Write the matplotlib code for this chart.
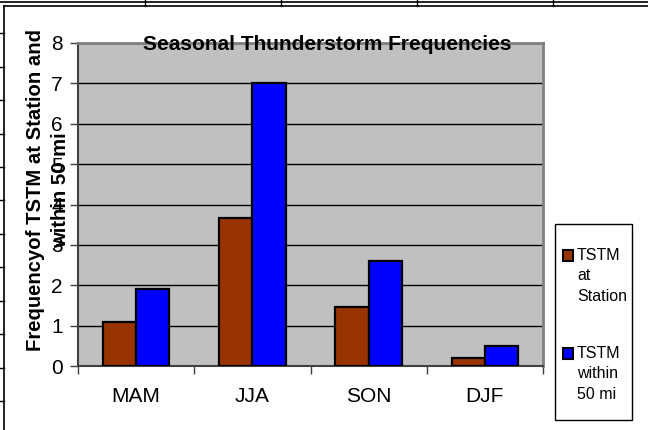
import numpy as np
import matplotlib.pyplot as plt
from matplotlib.patches import Rectangle
from matplotlib.lines import Line2D

seasons = ["MAM", "JJA", "SON", "DJF"]
at_station = [1.1, 3.67, 1.45, 0.2]
within_50mi = [1.9, 7.0, 2.6, 0.5]
series_labels = ["TSTM\nat\nStation", "TSTM\nwithin\n50 mi"]
colors = ["#993300", "#0000FF"]

W, H = 648, 430
plt.rcParams["font.family"] = ["Liberation Sans", "DejaVu Sans"]

fig = plt.figure(figsize=(W / 100, H / 100), dpi=100)


def fx(x):
    return x / W


def fy(y):
    return 1 - y / H


def fline(x0, y0, x1, y1, lw=1.0, color="black"):
    fig.add_artist(Line2D([fx(x0), fx(x1)], [fy(y0), fy(y1)], lw=lw, color=color,
                          transform=fig.transFigure))


# spreadsheet cells peeking out around the chart object
fline(0, 1.5, W, 1.5, lw=1.2)
for x in [145, 281, 417, 553]:
    fline(x, 0, x, 6)
for y in [33, 67, 100, 134, 167, 200, 234, 267, 301, 334, 368, 401]:
    fline(0, y, 4, y)
# chart area border
fline(4, 6, W, 6, lw=1.2)
fline(4, 6, 4, H, lw=1.2)

# plot area
ax = fig.add_axes([fx(78), fy(366), fx(543) - fx(78), fy(43) - fy(366)])
ax.set_facecolor("#C0C0C0")
x = np.arange(len(seasons))
bw = 0.286
ax.bar(x - bw / 2, at_station, bw, color=colors[0], edgecolor="black", lw=1.6, zorder=3)
ax.bar(x + bw / 2, within_50mi, bw, color=colors[1], edgecolor="black", lw=1.6, zorder=3)

ax.set_xlim(-0.5, len(seasons) - 0.5)
ax.set_ylim(0, 8)
ax.set_yticks(range(0, 9))
ax.yaxis.grid(True, color="black", lw=1.0, zorder=1)
ax.set_axisbelow(True)
ax.set_xticks(np.arange(-0.5, len(seasons), 1.0))
ax.set_xticklabels([])
ax.set_xticks(x, minor=True)
ax.set_xticklabels(seasons, minor=True)
ax.tick_params(axis="x", which="minor", length=0, pad=15, labelsize=15)
ax.tick_params(axis="x", which="major", direction="out", length=6, width=1, color="#404040")
ax.tick_params(axis="y", direction="out", length=6, width=1, labelsize=15, pad=5,
               color="#404040")
for side in ["top", "right"]:
    ax.spines[side].set_color("#808080")
    ax.spines[side].set_linewidth(2)
ax.spines["left"].set_color("#404040")
ax.spines["bottom"].set_color("#404040")
ax.spines["left"].set_linewidth(1.5)
ax.spines["bottom"].set_linewidth(1.5)

fig.text(fx(327), fy(44), "Seasonal Thunderstorm Frequencies", ha="center", va="center",
         fontsize=15, fontweight="bold")
fig.text(fx(48), fy(190), "Frequencyof TSTM at Station and\nwithin 50 mi", rotation=90,
         ha="center", va="center", multialignment="center", fontsize=14.6,
         fontweight="bold", linespacing=1.4)

# legend box
fig.add_artist(Rectangle((fx(555), fy(420)), fx(632) - fx(555), fy(224) - fy(420),
                         transform=fig.transFigure, fill=False, ec="black", lw=1))
for label, col, ytop in zip(series_labels, colors, [250, 348]):
    fig.add_artist(Rectangle((fx(563), fy(ytop + 11)), fx(10), fy(0) - fy(11),
                             transform=fig.transFigure, fc=col, ec="black", lw=1.5))
    fig.text(fx(577), fy(ytop - 2), label, ha="left", va="top", fontsize=11.5,
             linespacing=1.45)

fig.savefig("out.png", dpi=100)
